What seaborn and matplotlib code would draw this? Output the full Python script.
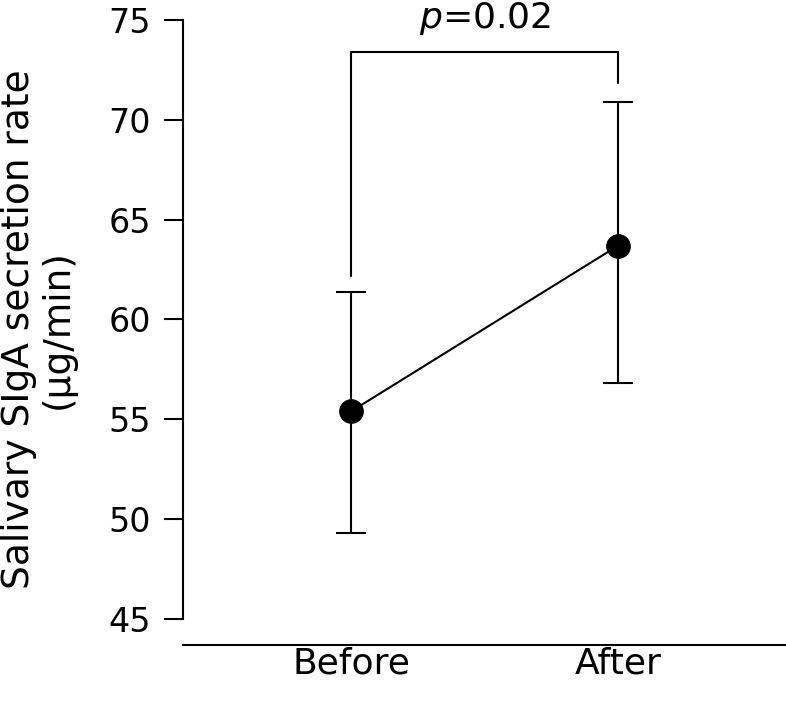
import matplotlib
matplotlib.use("Agg")
import numpy as np
import pandas as pd
import matplotlib.pyplot as plt
import seaborn as sns

# ----------------------------------------------------------
# Data
# ----------------------------------------------------------
groups = ["Before", "After"]
means = [55.4, 63.7]
err_low = [49.3, 56.8]
err_high = [61.4, 70.9]
bracket_y = [62.2, 73.4, 73.4, 71.85]   # left foot, top, top, right foot
p_label = r"$p$=0.02"
y_ticks = [45, 50, 55, 60, 65, 70, 75]

df = pd.DataFrame({"pos": np.arange(len(groups)), "group": groups, "mean": means})

# ----------------------------------------------------------
# Plot
# ----------------------------------------------------------
sns.set_style("ticks", {"axes.edgecolor": "black", "text.color": "black",
                        "xtick.color": "black", "ytick.color": "black",
                        "axes.labelcolor": "black"})
plt.rcParams["font.family"] = ["DejaVu Sans"]

fig = plt.figure(figsize=(7.86, 7.01), dpi=100)
ax = fig.add_axes([0.2328, 0.117, 0.766, 0.8545])

yerr = np.array([df["mean"] - np.array(err_low), np.array(err_high) - df["mean"]])
ax.errorbar(df["pos"], df["mean"], yerr=yerr, fmt="none", ecolor="black",
            elinewidth=1.5, capsize=11, capthick=1.5, zorder=2)
sns.lineplot(data=df, x="pos", y="mean", color="black", linewidth=1.5,
             marker="o", markersize=17, markeredgecolor="black", ax=ax, zorder=3)

# significance bracket
ax.plot([0, 0, 1, 1], bracket_y, color="black", lw=1.5, clip_on=False)
ax.text(0.5, 75.05, p_label, ha="center", va="center", fontsize=26,
        color="black", clip_on=False)

ax.set_xlim(-0.63, 1.625)
ax.set_ylim(45, 75)
ax.set_yticks(y_ticks)
ax.set_xticks(df["pos"])
ax.set_xticklabels(groups)
ax.set_xlabel("")
ax.set_ylabel("")

sns.despine(ax=ax)
ax.spines["bottom"].set_position(("outward", 19))
for s in ["left", "bottom"]:
    ax.spines[s].set_linewidth(1.5)
    ax.spines[s].set_color("black")
ax.tick_params(axis="y", length=14, width=1.5, pad=9, labelsize=24, colors="black")
ax.tick_params(axis="x", length=0, pad=1, labelsize=26, colors="black")

fig.text(38 / 786, 0.53, "Salivary SIgA secretion rate\n(µg/min)", rotation=90,
         ha="center", va="center", fontsize=27, linespacing=1.1, color="black")

fig.savefig("out.png", dpi=100)
